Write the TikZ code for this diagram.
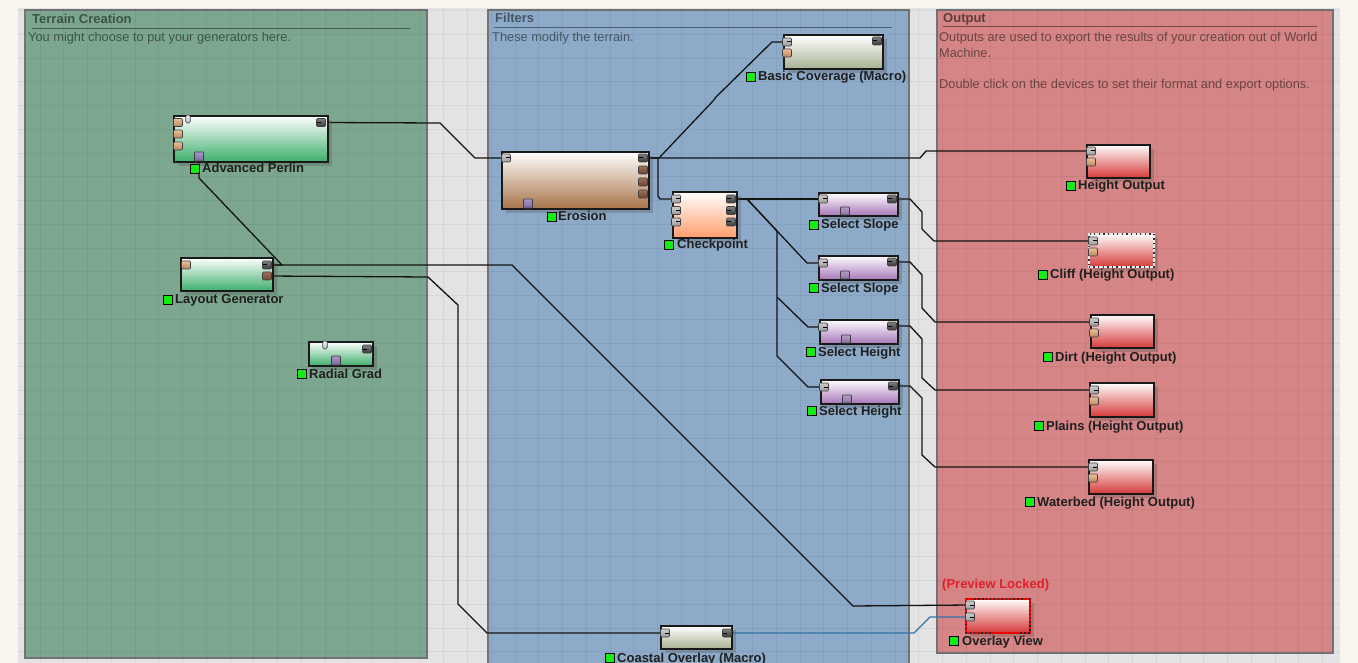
\documentclass[tikz,border=0pt]{standalone}
\usepackage{fontspec}
\setmainfont{Liberation Sans}
\usetikzlibrary{shadows}
\pgfdeclarelayer{back}
\pgfdeclarelayer{wires}
\pgfsetlayers{back,wires,main}

\definecolor{page}{HTML}{F8F5EF}
\definecolor{canvasgray}{HTML}{E3E3E3}
\definecolor{terrainpanel}{HTML}{7CA78E}
\definecolor{filterpanel}{HTML}{8DAAC9}
\definecolor{outputpanel}{HTML}{D58585}
\definecolor{genbottom}{HTML}{3DAE6C}
\definecolor{erobottom}{HTML}{A8744A}
\definecolor{cpbottom}{HTML}{FF9D6C}
\definecolor{selbottom}{HTML}{A676B8}
\definecolor{macrobottom}{HTML}{A9B293}
\definecolor{outbottom}{HTML}{D63A3A}
\definecolor{ledgreen}{HTML}{12EE12}
\definecolor{wireblue}{HTML}{3274A4}
\definecolor{lockred}{HTML}{E0202A}
\definecolor{tantop}{HTML}{EBC39A}
\definecolor{tanbot}{HTML}{B8845A}
\definecolor{browntop}{HTML}{A0725A}
\definecolor{brownbot}{HTML}{6A4434}
\definecolor{tabtop}{HTML}{A898CC}
\definecolor{tabbot}{HTML}{7A68A2}
\definecolor{seltabtop}{HTML}{B49CC4}
\definecolor{seltabbot}{HTML}{8C74A0}

% device box: outline, shaded body, soft shadow
\newcommand\devbox[6]{%
  \node[box, minimum width=#4pt, minimum height=#5pt,
        top color=white, middle color=#6!45, bottom color=#6] (#1) at (#2,#3) {};}
% status square and bold caption under a device
\newcommand\devlabel[5]{%
  \node[led] (#1) at (#2,#3) {};
  \node[lbl] (#1-t) at (#4,#3+9) {#5};}

\begin{document}
\begin{tikzpicture}[x=1pt,y=-1pt,
  box/.style={draw=black!90, line width=1.6pt, inner sep=0pt, anchor=north west,
    drop shadow={shadow xshift=4pt, shadow yshift=-4pt, opacity=0.28, fill=black!70}},
  port/.style={inner sep=0pt, minimum width=9pt, minimum height=8pt,
    rounded corners=1pt, draw=black!75, line width=0.6pt},
  inport/.style={port, top color=gray!40, bottom color=gray!78,
    path picture={\draw[black, line width=1pt]
      (path picture bounding box.center) -- (path picture bounding box.east);}},
  outport/.style={port, top color=black!50, bottom color=black!78,
    path picture={\draw[black, line width=1pt]
      (path picture bounding box.west) -- (path picture bounding box.center);}},
  tanport/.style={port, top color=tantop, bottom color=tanbot},
  brownport/.style={port, top color=browntop, bottom color=brownbot},
  masktab/.style={port, minimum height=9pt, top color=tabtop, bottom color=tabbot, rounded corners=0.5pt},
  seltab/.style={port, minimum height=8pt, top color=seltabtop, bottom color=seltabbot, rounded corners=0.5pt},
  partab/.style={port, minimum width=4.5pt, minimum height=8pt, top color=gray!10, bottom color=gray!55, rounded corners=1.5pt},
  led/.style={draw=black, line width=1.3pt, fill=ledgreen, minimum size=8.6pt, inner sep=0pt, anchor=north west},
  lbl/.style={anchor=base west, inner sep=0pt, font=\fontsize{13}{15}\selectfont\bfseries, text=black!88},
  ptitle/.style={anchor=base west, inner sep=0pt, font=\fontsize{13}{15}\selectfont\bfseries},
  pdesc/.style={anchor=base west, inner sep=0pt, font=\fontsize{12.8}{15}\selectfont},
  wire/.style={draw=black!92, line width=1.3pt},
  bluewire/.style={draw=wireblue, line width=1.3pt}
]
\useasboundingbox (0,0) rectangle (1358,663);
\clip (0,0) rectangle (1358,663);

% ---------------- background, panels, grid ----------------
\begin{pgfonlayer}{back}
  \fill[page] (0,0) rectangle (1358,663);
  \fill[canvasgray] (18,8) rectangle (1340,663);
  \filldraw[fill=terrainpanel, draw=black!55, line width=1.4pt] (25,10) rectangle (427,658);
  \filldraw[fill=filterpanel, draw=black!55, line width=1.4pt] (488,10) rectangle (909,672);
  \filldraw[fill=outputpanel, draw=black!55, line width=1.4pt] (937,10) rectangle (1333,653);
  \begin{scope}
    \clip (18,8) rectangle (1340,663);
    \foreach \k in {0,...,56}
      \draw[black, opacity=0.05, line width=0.8pt] ({16.25+23.75*\k},8) -- ({16.25+23.75*\k},663);
    \foreach \k in {0,...,27}
      \draw[black, opacity=0.05, line width=0.8pt] (18,{10.5+23.75*\k}) -- (1340,{10.5+23.75*\k});
  \end{scope}
  % panel headings
  \node[ptitle, text=terrainpanel!50!black] (t1) at (32,24) {Terrain Creation};
  \draw[terrainpanel!55!black, line width=0.9pt] (32,28) -- (410,28);
  \node[pdesc, text=terrainpanel!50!black] (d1) at (28,42) {You might choose to put your generators here.};
  \node[ptitle, text=filterpanel!50!black] (t2) at (495,23) {Filters};
  \draw[filterpanel!55!black, line width=0.9pt] (494,27) -- (892,27);
  \node[pdesc, text=filterpanel!50!black] (d2) at (492,42) {These modify the terrain.};
  \node[ptitle, text=outputpanel!45!black] (t3) at (943,23) {Output};
  \draw[outputpanel!55!black, line width=0.9pt] (943,26) -- (1317,26);
  \node[pdesc, text=outputpanel!50!black] (d3a) at (939,42) {Outputs are used to export the results of your creation out of World};
  \node[pdesc, text=outputpanel!50!black] (d3b) at (939,58) {Machine.};
  \node[pdesc, text=outputpanel!50!black] (d3c) at (939,89) {Double click on the devices to set their format and export options.};
\end{pgfonlayer}

% ---------------- devices ----------------
% generators
\devbox{ap}{173}{115}{154}{46}{genbottom}
\node[tanport] (ap-i1) at (178,122.5) {};
\node[tanport] (ap-i2) at (178,134) {};
\node[tanport] (ap-i3) at (178,146) {};
\node[partab] (ap-p) at (188,119) {};
\node[masktab] (ap-m) at (199,156.5) {};
\node[outport] (ap-o) at (321,122.5) {};
\devlabel{ap-s}{190}{164}{202}{Advanced Perlin}

\devbox{lg}{180}{257}{92}{33}{genbottom}
\node[tanport] (lg-i) at (186,265) {};
\node[outport] (lg-o1) at (267,265) {};
\node[brownport] (lg-o2) at (267,276) {};
\devlabel{lg-s}{163}{295}{175}{Layout Generator}

\devbox{rg}{308}{341}{64}{24}{genbottom}
\node[partab] (rg-p) at (325,345) {};
\node[masktab] (rg-m) at (336,360.5) {};
\node[outport] (rg-o) at (367,349) {};
\devlabel{rg-s}{297}{369}{309}{Radial Grad}

% filters
\devbox{er}{501}{151}{147}{57}{erobottom}
\node[inport] (er-i) at (506,158) {};
\node[outport] (er-o1) at (643,158) {};
\node[brownport] (er-o2) at (643,170) {};
\node[brownport] (er-o3) at (643,182) {};
\node[brownport] (er-o4) at (643,194) {};
\node[masktab] (er-m) at (528,203.5) {};
\devlabel{er-s}{547}{212}{558}{Erosion}

\devbox{bc}{783}{34}{99}{34}{macrobottom}
\node[inport] (bc-i1) at (787,42) {};
\node[tanport] (bc-i2) at (787,53) {};
\node[outport] (bc-o) at (877,41) {};
\devlabel{bc-s}{746}{72}{758}{Basic Coverage (Macro)}

\devbox{cp}{672}{191}{64}{46}{cpbottom}
\node[inport] (cp-i1) at (676,199) {};
\node[inport] (cp-i2) at (676,210.5) {};
\node[inport] (cp-i3) at (676,222) {};
\node[outport] (cp-o1) at (731,199) {};
\node[outport] (cp-o2) at (731,210.5) {};
\node[outport] (cp-o3) at (731,222) {};
\devlabel{cp-s}{664}{240}{677}{Checkpoint}

\devbox{ss1}{818}{192}{79}{23}{selbottom}
\node[inport] (ss1-i) at (823,199) {};
\node[outport] (ss1-o) at (892,199) {};
\node[seltab] (ss1-m) at (845,211) {};
\devlabel{ss1-s}{809}{220}{821}{Select Slope}

\devbox{ss2}{818}{255}{79}{24}{selbottom}
\node[inport] (ss2-i) at (823,263) {};
\node[outport] (ss2-o) at (892,262) {};
\node[seltab] (ss2-m) at (845,275) {};
\devlabel{ss2-s}{809}{283}{821}{Select Slope}

\devbox{sh1}{819}{319}{78}{24}{selbottom}
\node[inport] (sh1-i) at (823,327) {};
\node[outport] (sh1-o) at (892,326) {};
\node[seltab] (sh1-m) at (846,339) {};
\devlabel{sh1-s}{806}{347}{818}{Select Height}

\devbox{sh2}{820}{379}{78}{24}{selbottom}
\node[inport] (sh2-i) at (824,387) {};
\node[outport] (sh2-o) at (893,386) {};
\node[seltab] (sh2-m) at (847,399) {};
\devlabel{sh2-s}{807}{406}{819}{Select Height}

\devbox{co}{660}{625}{71}{23}{macrobottom}
\node[inport] (co-i) at (665,633) {};
\node[outport] (co-o) at (727,633) {};
\devlabel{co-s}{605}{653}{617}{Coastal Overlay (Macro)}

% outputs
\devbox{ho}{1086}{144}{63}{33}{outbottom}
\node[inport] (ho-i1) at (1091,151) {};
\node[tanport] (ho-i2) at (1091,162) {};
\devlabel{ho-s}{1066}{181}{1078}{Height Output}

\node[box, minimum width=65pt, minimum height=33pt, top color=white, middle color=outbottom!45,
      bottom color=outbottom, draw=white!92!black,
      postaction={draw=black!80, line width=1.6pt, dash pattern=on 1.3pt off 3.3pt}] (cl) at (1088,233) {};
\node[inport] (cl-i1) at (1093,241) {};
\node[tanport] (cl-i2) at (1093,252) {};
\devlabel{cl-s}{1038}{270}{1050}{Cliff (Height Output)}

\devbox{di}{1090}{314}{63}{33}{outbottom}
\node[inport] (di-i1) at (1094,322) {};
\node[tanport] (di-i2) at (1094,333) {};
\devlabel{di-s}{1043}{352}{1055}{Dirt (Height Output)}

\devbox{pl}{1089}{382}{64}{34}{outbottom}
\node[inport] (pl-i1) at (1094,390) {};
\node[tanport] (pl-i2) at (1094,401) {};
\devlabel{pl-s}{1034}{421}{1046}{Plains (Height Output)}

\devbox{wb}{1088}{459}{64}{34}{outbottom}
\node[inport] (wb-i1) at (1093,467) {};
\node[tanport] (wb-i2) at (1093,478) {};
\devlabel{wb-s}{1025}{497}{1037}{Waterbed (Height Output)}

\node[lbl, text=lockred] (lock) at (942,588) {(Preview Locked)};
\node[box, minimum width=64pt, minimum height=34pt, top color=white, middle color=outbottom!45,
      bottom color=outbottom, draw=red,
      postaction={draw=black!85, line width=1.6pt, dash pattern=on 1.3pt off 2.6pt}] (ov) at (965,598) {};
\node[inport] (ov-i1) at (970,605) {};
\node[inport] (ov-i2) at (970,617) {};
\devlabel{ov-s}{949}{636}{962}{Overlay View}

% ---------------- connections ----------------
\begin{pgfonlayer}{wires}
  \draw[wire] (ap-o.center) -- (440,123) -- (475,158) -- (er-i.center);
  \draw[wire] (lg-o1.center) -- (282,265) -- (199,178) -- (ap-m.center);
  \draw[wire] (lg-o1.center) -- (512,265) -- (853,606) -- (ov-i1.center);
  \draw[wire] (lg-o2.center) -- (428,277) -- (458,305) -- (458,604) -- (487,633) -- (co-i.center);
  \draw[bluewire] (co-o.center) -- (914,633) -- (930,617) -- (ov-i2.center);

  \draw[wire] (er-o1.center) -- (920,158) -- (926,151) -- (ho-i1.center);
  \draw[wire] (er-o1.center) -- (659,158) -- (713,101) -- (716,97) -- (772,42) -- (bc-i1.center);
  \draw[wire] (er-o1.center) -- (658,158) -- (658,196) -- (660,199) -- (cp-i1.center);

  \draw[wire] (cp-o1.center) -- (ss1-i.center);
  \draw[wire] (cp-o1.center) -- (747,199) -- (807,263) -- (ss2-i.center);
  \draw[wire] (cp-o1.center) -- (747,199) -- (777,231) -- (777,297) -- (808,327) -- (sh1-i.center);
  \draw[wire] (777,297) -- (777,356) -- (808,387) -- (sh2-i.center);

  \draw[wire] (ss1-o.center) -- (910,199) -- (922,212) -- (922,229) -- (934,241) -- (cl-i1.center);
  \draw[wire] (ss2-o.center) -- (910,262) -- (922,275) -- (922,308) -- (935,322) -- (di-i1.center);
  \draw[wire] (sh1-o.center) -- (910,326) -- (922,339) -- (922,378) -- (935,390) -- (pl-i1.center);
  \draw[wire] (sh2-o.center) -- (910,386) -- (922,398) -- (922,455) -- (935,467) -- (wb-i1.center);
\end{pgfonlayer}
\end{tikzpicture}
\end{document}
